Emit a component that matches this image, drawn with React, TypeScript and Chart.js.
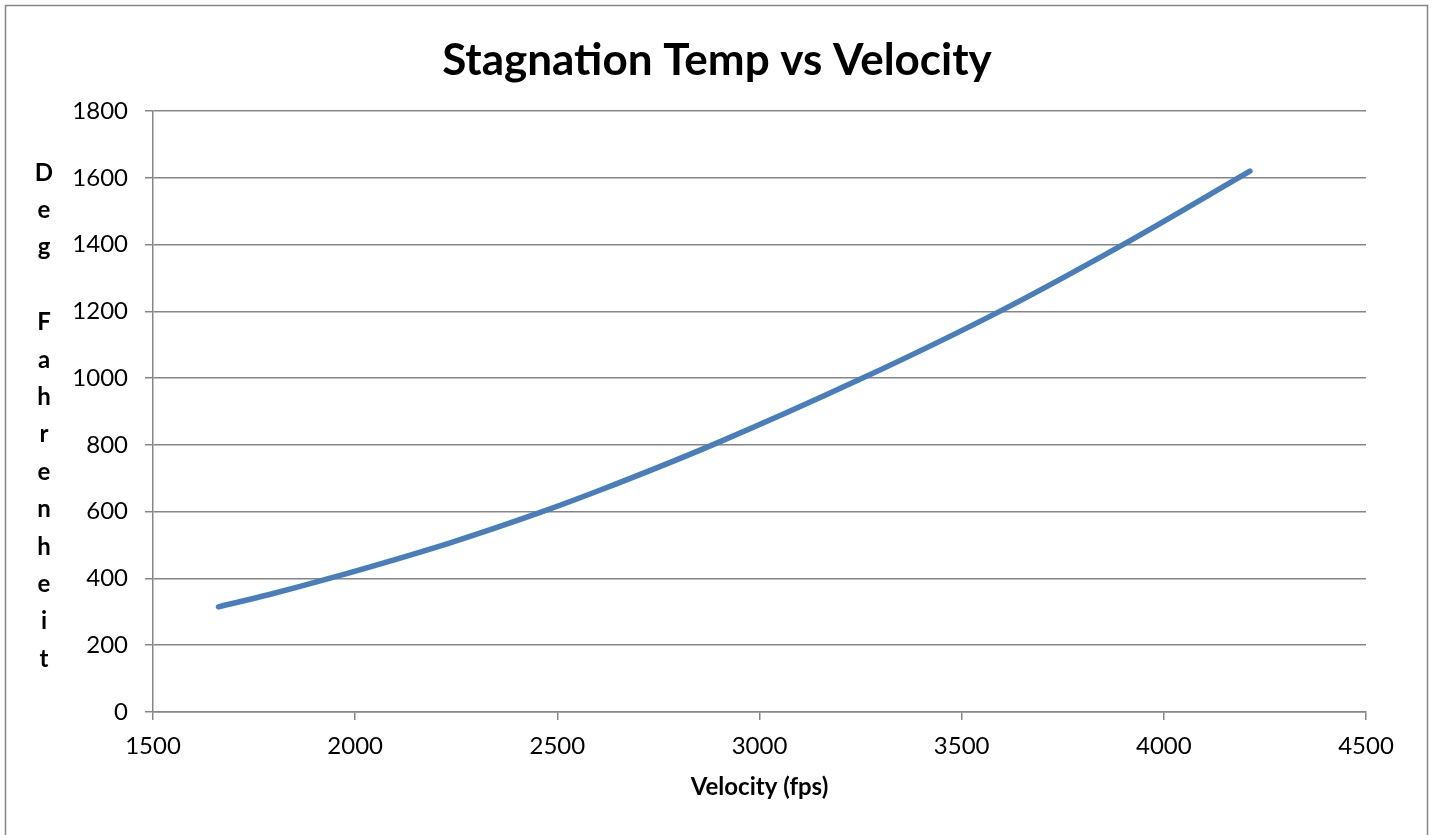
import { useEffect, useRef } from "react";
import { Chart, registerables } from "chart.js";

Chart.register(...registerables);

// ---- data ----
const chartTitle = "Stagnation Temp vs Velocity";
const xAxisTitle = "Velocity (fps)";
const yAxisTitle = "Deg Fahrenheit";

const velocityFps = [1662, 1788, 1936, 2233, 2463, 2605, 2884, 3255, 3594, 3899, 4213];
const stagnationTempF = [315, 352, 400, 506, 600, 664, 800, 1000, 1200, 1400, 1620];

const xTickValues = [1500, 2000, 2500, 3000, 3500, 4000, 4500];
const yTickValues = [0, 200, 400, 600, 800, 1000, 1200, 1400, 1600, 1800];

const FONT = 'Lato, "Open Sans", sans-serif';
const GRID = "#868686";

export default function App() {
  const ref = useRef<HTMLCanvasElement>(null);

  useEffect(() => {
    document.body.style.margin = "0";

    const framePlugin = {
      id: "frame",
      beforeDraw(chart: any) {
        const ctx = chart.ctx;
        ctx.save();
        ctx.fillStyle = "#ffffff";
        ctx.fillRect(0, 0, chart.width, chart.height);
        ctx.strokeStyle = GRID;
        ctx.lineWidth = 1.5;
        ctx.strokeRect(5.5, 5.5, chart.width - 12, chart.height + 40);
        ctx.restore();
      },
    };

    const stackedTitlePlugin = {
      id: "stackedYTitle",
      afterDraw(chart: any) {
        const { ctx, chartArea } = chart;
        const chars = Array.from(yAxisTitle);
        const step = 37.4;
        const mid = (chartArea.top + chartArea.bottom) / 2 + 4.5;
        const start = mid - (step * (chars.length - 1)) / 2;
        ctx.save();
        ctx.font = `bold 24px ${FONT}`;
        ctx.textAlign = "center";
        ctx.textBaseline = "middle";
        ctx.fillStyle = "#000000";
        chars.forEach((c, i) => {
          if (c.trim()) ctx.fillText(c, 44, start + i * step);
        });
        ctx.restore();
      },
    };

    const chart = new Chart(ref.current!, {
      type: "scatter",
      data: {
        datasets: [
          {
            data: velocityFps.map((x, i) => ({ x, y: stagnationTempF[i] })),
            showLine: true,
            borderColor: "#4A7EBB",
            backgroundColor: "#4A7EBB",
            borderWidth: 5.5,
            pointRadius: 0,
            pointHoverRadius: 0,
            borderCapStyle: "round",
            borderJoinStyle: "round",
            cubicInterpolationMode: "monotone",
            fill: false,
          } as any,
        ],
      },
      options: {
        animation: false,
        responsive: false,
        maintainAspectRatio: false,
        layout: { padding: 0 },
        plugins: {
          legend: { display: false },
          tooltip: { enabled: false },
          title: {
            display: true,
            text: chartTitle,
            color: "#000000",
            font: { family: FONT, size: 44, weight: "bold" },
            padding: { top: 34.6, bottom: 23.6 },
          },
        },
        scales: {
          x: {
            type: "linear",
            min: 1500,
            max: 4500,
            afterBuildTicks: (s: any) => {
              s.ticks = xTickValues.map((v) => ({ value: v }));
            },
            afterFit: (s: any) => {
              s.height = 123;
            },
            ticks: {
              color: "#000000",
              font: { family: FONT, size: 24 },
              padding: 12,
              maxRotation: 0,
              callback: (v: any) => String(v),
            },
            grid: {
              drawOnChartArea: false,
              drawTicks: true,
              tickLength: 8,
              color: GRID,
              lineWidth: 1.5,
            },
            border: { display: true, color: GRID, width: 1.5 },
            title: {
              display: true,
              text: xAxisTitle,
              color: "#000000",
              font: { family: FONT, size: 24, weight: "bold" },
              padding: { top: 0, bottom: 33.6 },
            },
          },
          y: {
            type: "linear",
            min: 0,
            max: 1800,
            afterBuildTicks: (s: any) => {
              s.ticks = yTickValues.map((v) => ({ value: v }));
            },
            afterFit: (s: any) => {
              s.width = 153;
            },
            ticks: {
              color: "#000000",
              font: { family: FONT, size: 24 },
              padding: 17,
              callback: (v: any) => String(v),
            },
            grid: {
              drawOnChartArea: true,
              drawTicks: true,
              tickLength: 8,
              color: GRID,
              lineWidth: 1.5,
            },
            border: { display: true, color: GRID, width: 1.5 },
          },
          rightSpace: {
            type: "linear",
            position: "right",
            display: true,
            ticks: { display: false },
            grid: { display: false },
            border: { display: false },
            afterFit: (s: any) => {
              s.width = 68;
            },
          },
        },
      },
      plugins: [framePlugin, stackedTitlePlugin],
    } as any);

    return () => chart.destroy();
  }, []);

  return <canvas ref={ref} width={1434} height={835} style={{ display: "block" }} />;
}
